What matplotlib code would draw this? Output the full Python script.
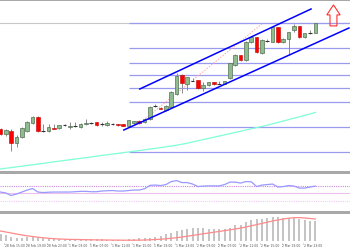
import numpy as np
import matplotlib
matplotlib.use("Agg")
from matplotlib import pyplot as plt
from matplotlib.patches import Rectangle, Polygon

# ---- data (hourly candles) ----
opens = [1215.5, 1213, 1214.5, 1208.5, 1211.5, 1214.5, 1218.5, 1221.5, 1214.5, 1214.5,
         1216.25, 1216, 1217.5, 1216.5, 1217, 1216.5, 1218, 1218.5, 1219, 1218,
         1217.5, 1218, 1218, 1217.85, 1217.15, 1218.35, 1219.65, 1218.85, 1220.5, 1227,
         1226.15, 1225, 1226.35, 1233, 1242.5, 1238, 1239.75, 1239.85, 1235.85, 1237.5,
         1238.85, 1238.25, 1238.15, 1240.85, 1247.5, 1252.5, 1250, 1259.15, 1261.35, 1253.35,
         1259.4, 1259.15, 1266.35, 1258.85, 1260.5, 1265, 1267, 1261.35, 1263.5, 1263.65]
highs = [1216, 1215.5, 1215.5, 1212.5, 1216.5, 1219.5, 1222, 1222, 1218, 1218,
         1218, 1217.75, 1218, 1219, 1219.25, 1218.75, 1220.5, 1219, 1219.25, 1219.25,
         1219.5, 1218.5, 1218.25, 1218, 1220.25, 1219.75, 1220, 1221.15, 1227, 1228,
         1226.5, 1227.5, 1234.5, 1243.35, 1243, 1241.75, 1240.85, 1240.25, 1239.15, 1239.25,
         1239, 1239.5, 1239.75, 1248.75, 1253, 1252.75, 1259.5, 1262, 1261.5, 1260.5,
         1260.35, 1266.75, 1266.6, 1261, 1264.25, 1268, 1267.25, 1263.75, 1265, 1268.75]
lows = [1212.5, 1212, 1204.5, 1206.5, 1211, 1214, 1218, 1214, 1214.25, 1214,
        1215.5, 1215.75, 1217, 1215.5, 1216.5, 1216.25, 1217.5, 1218, 1217.25, 1217.25,
        1217.25, 1217.5, 1217.25, 1217, 1217, 1218, 1218, 1218.5, 1220.25, 1226.35,
        1225.5, 1224.65, 1226.25, 1232.5, 1233.5, 1235, 1239.5, 1235.5, 1234.65, 1237,
        1237.75, 1237.85, 1238, 1240.65, 1247.25, 1249.75, 1249.75, 1258.65, 1253.5, 1253,
        1258.85, 1259, 1258.6, 1258.5, 1252.5, 1264.15, 1261.1, 1261, 1262.85, 1263.5]
closes = [1213, 1215, 1208.5, 1211.5, 1216, 1219, 1221.5, 1214.5, 1214.5, 1216.5,
          1215.75, 1217.5, 1217.5, 1217, 1217, 1218, 1218.5, 1218.5, 1217.5, 1218,
          1218.5, 1218, 1217.5, 1217.15, 1220, 1219.5, 1218.35, 1220.35, 1226.35, 1227,
          1225.65, 1227, 1234.15, 1242, 1238.35, 1241.35, 1239.75, 1235.85, 1237.5, 1238.85,
          1238, 1238.25, 1239.5, 1248.35, 1252.5, 1250, 1259.15, 1261.35, 1253.85, 1260,
          1259.4, 1266.35, 1258.85, 1260.65, 1263.85, 1267, 1261.35, 1263.35, 1263.5, 1268.35]

ma_slow = [1195.5, 1195.9, 1196.2, 1196.6, 1196.9, 1197.3, 1197.6, 1198.0, 1198.3, 1198.7,
           1199.1, 1199.4, 1199.8, 1200.1, 1200.5, 1200.8, 1201.2, 1201.5, 1201.9, 1202.3,
           1202.6, 1203.0, 1203.3, 1203.7, 1204.0, 1204.4, 1204.7, 1205.1, 1205.5, 1205.8,
           1206.2, 1206.6, 1207.0, 1207.4, 1207.9, 1208.4, 1209.0, 1209.6, 1210.2, 1210.8,
           1211.4, 1212.0, 1212.6, 1213.2, 1213.8, 1214.4, 1215.0, 1215.6, 1216.2, 1216.8,
           1217.4, 1218.1, 1218.8, 1219.5, 1220.2, 1220.9, 1221.6, 1222.3, 1223.0, 1223.8]

fib_levels = [1268.5, 1256, 1248.5, 1242.5, 1236, 1229, 1216.5, 1204]
channel_upper = [(26.1, 1235.5), (58.2, 1275.5)]
channel_lower = [(23.1, 1215.0), (65.3, 1266.0)]
guide_line = [(25.9, 1218.0), (49.2, 1268.5)]

rsi = [53.2, 50.6, 44.2, 48.1, 53.2, 58.4, 62.3, 53.2, 51.9, 52.7,
       53.2, 53.2, 53.2, 53.2, 54.0, 55.0, 55.0, 54.0, 54.0, 55.8,
       56.6, 57.1, 55.8, 55.8, 57.1, 58.4, 58.4, 61.7, 70.5, 71.3,
       70.0, 72.6, 80.3, 82.9, 77.7, 77.7, 73.9, 67.4, 68.7, 69.2,
       69.2, 69.2, 72.6, 79.0, 79.0, 76.5, 80.3, 79.8, 67.4, 71.3,
       72.6, 73.9, 66.1, 67.4, 70.0, 68.7, 63.5, 63.5, 66.1, 68.7]

macd_hist = [7, 6, 4.5, 3.5, 3.5, 4, 5.5, 4.5, 3.5, 3,
             2.5, 2.5, 2, 2, 2, 2, 2, 2, 2, 2,
             1.5, 1.5, 1.5, 1.5, 2, 2.5, 3, 3, 3.5, 4.5,
             5.5, 7, 8.5, 10, 11.5, 12.5, 13, 13, 13, 12.5,
             12, 12, 12.5, 13.5, 16, 16.5, 19.5, 21.5, 22.5, 22.5,
             23, 24.5, 24, 23, 23, 23.5, 22, 21, 20, 20]
macd_signal = [10, 9, 8, 7, 6, 5.2, 4.5, 3.8, 3.2, 2.7,
               2.3, 2, 1.8, 1.6, 1.5, 1.4, 1.3, 1.2, 1.1, 1,
               1, 0.9, 0.9, 0.8, 0.8, 0.8, 0.9, 1, 1.2, 1.5,
               1.8, 2.2, 2.7, 3.3, 4, 4.8, 5.6, 6.4, 7.2, 8,
               8.8, 9.6, 10.4, 11.2, 12, 13, 14, 15.2, 16.4, 17.6,
               18.8, 20, 21, 22, 22.8, 23.3, 23.4, 23, 22.5, 22]

tick_idx = [1, 5, 9, 13, 17, 21, 25, 29, 33, 37, 41, 45, 49, 53, 57]
tick_labels = ["28 Feb 15:00", "28 Feb 19:00", "28 Feb 23:00",
               "1 Mar 03:00", "1 Mar 07:00", "1 Mar 11:00", "1 Mar 15:00",
               "1 Mar 19:00", "1 Mar 23:00", "2 Mar 03:00", "2 Mar 07:00",
               "2 Mar 11:00", "2 Mar 15:00", "2 Mar 19:00", "2 Mar 23:00"]

# ---- layout ----
W, H = 350, 250
fig = plt.figure(figsize=(3.5, 2.5), dpi=100)
fig.patch.set_facecolor('white')

def box(top, bottom):
    return [0, 1 - bottom / H, 1, (bottom - top) / H]

ax = fig.add_axes(box(1, 171))
ax_rsi = fig.add_axes(box(174, 211))
ax_macd = fig.add_axes(box(213.5, 243))

x = np.arange(len(closes))
XLIM = (-0.1, 65.5)
for a in (ax, ax_rsi, ax_macd):
    a.set_xlim(*XLIM)
    a.axis('off')

# ---- main panel ----
ax.set_ylim(1194.5, 1279.5)
ax.axhline(closes[-1] + 0.3, color='#c8c8c8', lw=0.8, zorder=1)
ax.hlines(fib_levels, 24, XLIM[1], color='#9a9af0', lw=0.9, zorder=1)
ax.plot(x, ma_slow, color='#7fffd4', lw=0.9, zorder=2)
ax.plot(*zip(*guide_line), color='#ffa8a8', lw=0.7, ls=(0, (1.5, 1.5)), zorder=2)

o = np.array(opens); c = np.array(closes)
ax.vlines(x, lows, highs, color='#8a8a8a', lw=0.7, zorder=3)
up = c - o > 0.3
dn = o - c > 0.3
dj = ~(up | dn)
ax.bar(x[up], (c - o)[up], bottom=o[up], width=0.68, color='#8fbc8f',
       edgecolor='#557055', lw=0.5, zorder=4)
ax.bar(x[dn], (o - c)[dn], bottom=c[dn], width=0.68, color='#ff0000',
       edgecolor='#c00000', lw=0.4, zorder=4)
ax.hlines(c[dj], x[dj] - 0.34, x[dj] + 0.34, color='#333333', lw=0.8, zorder=4)

ax.plot(*zip(*channel_upper), color='#0000ff', lw=1.1, zorder=5)
ax.plot(*zip(*channel_lower), color='#0000ff', lw=1.1, zorder=5)

# outlined up-arrow to the right of the last bar
xc = x[-1] + 3.4
base = closes[-1] - 1.3
arrow = [(xc - 0.65, base), (xc + 0.65, base), (xc + 0.65, base + 5.5), (xc + 1.25, base + 5.5),
         (xc, base + 10.5), (xc - 1.25, base + 5.5), (xc - 0.65, base + 5.5)]
ax.add_patch(Polygon(arrow, closed=True, fill=False, edgecolor='#ff3030', lw=0.8, zorder=6))

# ---- RSI panel ----
ax_rsi.set_ylim(4, 100)
ax_rsi.axhline(70, color='#cc88dd', lw=0.8, ls=(0, (1, 1)))
ax_rsi.axhline(50, color='#ecc0ec', lw=0.8)
ax_rsi.axhline(30, color='#f0ccf4', lw=0.8, ls=(0, (1, 1)))
ax_rsi.plot(x, rsi, color='#9999ff', lw=0.9)

# ---- MACD panel ----
ax_macd.set_ylim(-2, 27.5)
ax_macd.bar(x, macd_hist, width=0.38, color='#c4c4c4')
ax_macd.plot(x, macd_signal, color='#ff8a8a', lw=0.9)

# time labels under the last panel
for i, lab in zip(tick_idx, tick_labels):
    ax_macd.text(i - 0.2, -2.6, lab, fontsize=2.2, color='#505050', ha='left', va='top',
                 family=['Liberation Sans Narrow', 'DejaVu Sans'], clip_on=False)
ax_macd.vlines(np.array(tick_idx) - 0.3, -2.6, -1.6, color='#808080', lw=0.4, clip_on=False)

# separators
for top, h in ((0, 1.2), (171, 2.6), (211, 2.6)):
    fig.add_artist(Rectangle((0, 1 - (top + h) / H), 1, h / H, transform=fig.transFigure,
                             color='#a8a8a8', lw=0))

plt.savefig('out.png', dpi=100, facecolor='white')
